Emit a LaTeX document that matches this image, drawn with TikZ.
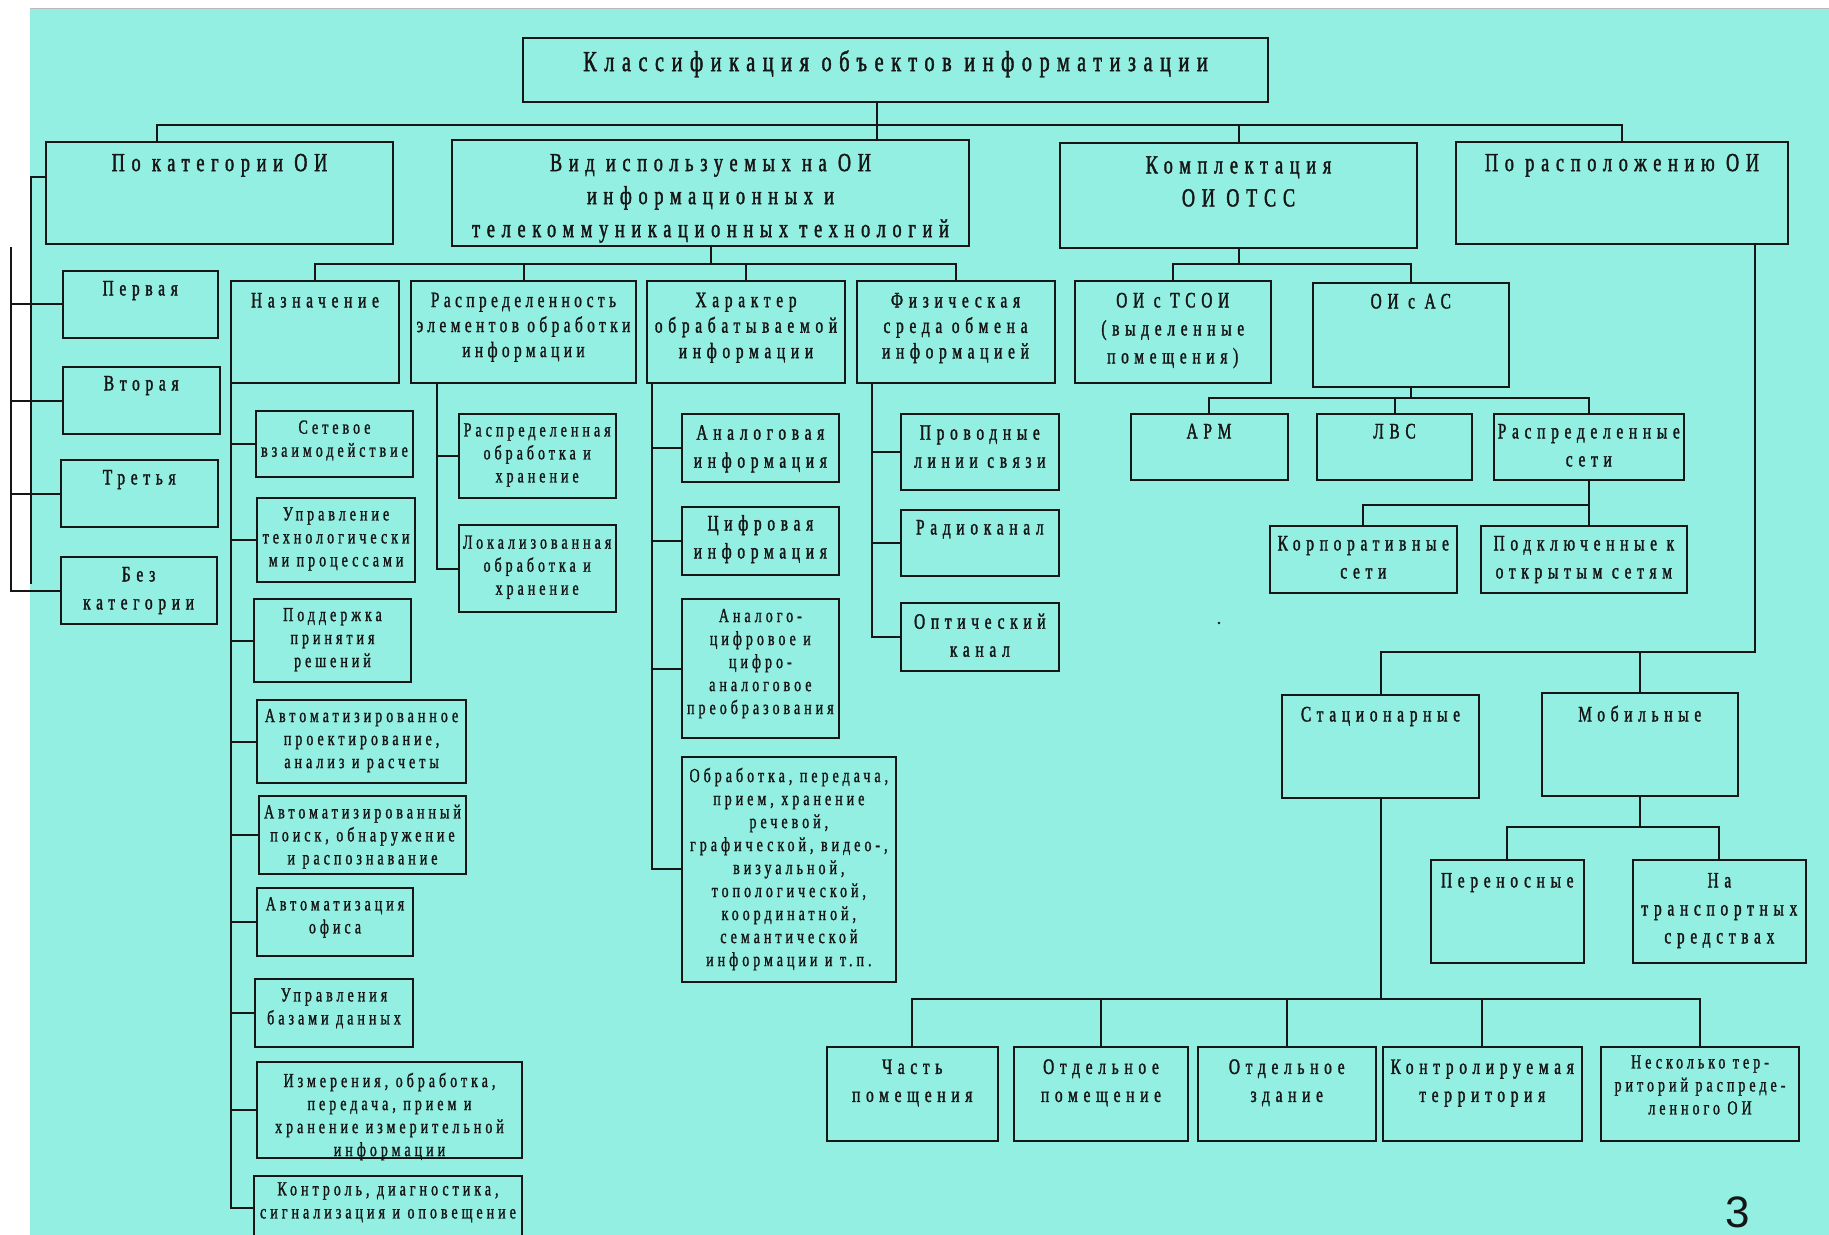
\documentclass[tikz,border=0pt]{standalone}
\usepackage{fontspec}
\setmainfont{Liberation Serif}[FakeStretch=0.7,LetterSpace=26,FakeBold=1.5]
\newfontfamily\narrowserif{Liberation Serif}[FakeStretch=0.7,LetterSpace=20,FakeBold=1.2]
\newfontfamily\pagenumfont{Liberation Sans}
\usetikzlibrary{calc}

\definecolor{sheet}{RGB}{146,239,226}
\definecolor{ink}{RGB}{22,22,22}

\tikzset{
  box/.style={draw=ink, line width=1pt, inner sep=0pt, outer sep=0pt},
  link/.style={draw=ink, line width=1pt},
  lbl/.style={inner sep=0pt, align=center, text=ink},
  ttl/.style={lbl, font=\fontsize{14.5}{18}\selectfont},
  big/.style={lbl, font=\fontsize{13}{16.5}\selectfont},
  mid/.style={lbl, font=\fontsize{11}{14}\selectfont},
  mdw/.style={lbl, font=\fontsize{11}{12.75}\selectfont},
  mdn/.style={lbl, font=\narrowserif\fontsize{11}{12.5}\selectfont},
  sml/.style={lbl, font=\narrowserif\fontsize{10}{11.5}\selectfont},
}

% a strut of fixed height starts every label, so the label's top lies
% exactly 12pt above the baseline of its first line
\newcommand\firstline{\rule{0pt}{12pt}}

% name, x1, y1, x2, y2, text style, first baseline, text
\newcommand\boxnode[8]{%
  \node[box, anchor=north west,
        minimum width={(#4-#2)*0.5pt}, minimum height={(#5-#3)*0.5pt}] (#1) at (#2,#3) {};
  \node[#6, anchor=north, yshift=12pt] (#1-t) at ($(#1.north)+(0,#7-#3)$) {\firstline#8};
}

\begin{document}
\begin{tikzpicture}[x=0.5pt, y=-0.5pt]
\useasboundingbox (0,0) rectangle (1829,1235);
\begin{scope}
\clip (0,0) rectangle (1829,1235);
\fill[sheet] (30,9) rectangle (1829,1235);
\draw[gray!55, line width=0.5pt] (30,9) -- (1829,9);

% root and first level
\boxnode{title}{523}{38}{1268}{102}{ttl}{70.7}{Классификация объектов информатизации}
\boxnode{cat}{46}{142}{393}{244}{big}{170.7}{По категории ОИ}
\boxnode{vid}{452}{140}{969}{246}{big}{170.7}{Вид используемых на ОИ\\информационных и\\телекоммуникационных технологий}
\boxnode{kompl}{1060}{143}{1417}{248}{big}{173}{Комплектация\\ОИ ОТСС}
\boxnode{rasp}{1456}{142}{1788}{244}{big}{170.7}{По расположению ОИ}

% categories
\boxnode{perv}{62.5}{271}{218}{338}{mid}{295}{Первая}
\boxnode{vtor}{63}{367}{219.5}{434}{mid}{390}{Вторая}
\boxnode{tret}{60.5}{460}{218}{527}{mid}{484}{Третья}
\boxnode{bez}{60.5}{557}{216.7}{624}{mid}{581}{Без\\категории}

% technologies
\boxnode{naz}{231}{281}{399}{383}{mid}{307}{Назначение}
\boxnode{raspr}{411}{281}{636}{383}{mdn}{306.7}{Распределенность\\элементов обработки\\информации}
\boxnode{har}{647}{281}{845}{383}{mdw}{306.7}{Характер\\обрабатываемой\\информации}
\boxnode{fiz}{856.5}{281}{1054.5}{383}{mdw}{307}{Физическая\\среда обмена\\информацией}

% purpose
\boxnode{set}{256}{411}{413}{477}{sml}{433.3}{Сетевое\\взаимодействие}
\boxnode{upr}{257.4}{498}{414.8}{581.7}{sml}{520}{Управление\\технологически\\ми процессами}
\boxnode{podd}{254}{599}{411}{682}{sml}{620.7}{Поддержка\\принятия\\решений}
\boxnode{avtp}{257.4}{700}{465.8}{783}{sml}{721.7}{Автоматизированное\\проектирование,\\анализ и расчеты}
\boxnode{avtpo}{259}{796}{466}{873.7}{sml}{818}{Автоматизированный\\поиск, обнаружение\\и распознавание}
\boxnode{avto}{257}{888}{413}{956}{sml}{910}{Автоматизация\\офиса}
\boxnode{ubd}{255}{979}{413}{1047}{sml}{1001}{Управления\\базами данных}
\boxnode{izm}{257}{1062}{522}{1158}{sml}{1086.7}{Измерения, обработка,\\передача, прием и\\хранение измерительной\\информации}
\boxnode{kon}{254}{1176}{522}{1240}{sml}{1195}{Контроль, диагностика,\\сигнализация и оповещение}

% distribution
\boxnode{rob}{458.7}{414}{615.6}{498}{sml}{436}{Распределенная\\обработка и\\хранение}
\boxnode{lok}{458.7}{525}{615.6}{612}{sml}{548.3}{Локализованная\\обработка и\\хранение}

% kind of information
\boxnode{anal}{681.7}{414}{839}{482}{mid}{439.3}{Аналоговая\\информация}
\boxnode{cifr}{681.7}{507}{839}{574.7}{mid}{530}{Цифровая\\информация}
\boxnode{acp}{681.7}{599}{839}{738}{sml}{621.7}{Аналого-\\цифровое и\\цифро-\\аналоговое\\преобразования}
\boxnode{obr}{681.7}{756.7}{896}{981.7}{sml}{781.7}{Обработка, передача,\\прием, хранение\\речевой,\\графической, видео-,\\визуальной,\\топологической,\\координатной,\\семантической\\информации и т.п.}

% physical medium
\boxnode{prov}{901}{414}{1058.7}{490}{mid}{439.3}{Проводные\\линии связи}
\boxnode{radio}{901}{510}{1058.7}{576}{mid}{534}{Радиоканал}
\boxnode{opt}{901}{602.7}{1058.7}{670.7}{mid}{628.3}{Оптический\\канал}

% equipment
\boxnode{tsoi}{1074.5}{281}{1271}{383}{mid}{307}{ОИ с ТСОИ\\(выделенные\\помещения)}
\boxnode{ac}{1312.5}{283}{1509}{387}{mid}{308}{ОИ с АС}
\boxnode{arm}{1130.5}{414}{1287.5}{480}{mid}{438}{АРМ}
\boxnode{lvs}{1317}{414}{1472}{480}{mid}{438}{ЛВС}
\boxnode{rs}{1493.6}{414}{1684}{480}{mid}{438}{Распределенные\\сети}
\boxnode{korp}{1269.6}{526}{1457}{593}{mid}{550}{Корпоративные\\сети}
\boxnode{podkl}{1480.7}{526}{1687}{593}{mid}{550}{Подключенные к\\открытым сетям}

% location
\boxnode{stac}{1282}{695}{1479}{798}{mid}{721}{Стационарные}
\boxnode{mob}{1541.5}{693}{1738}{796}{mid}{721}{Мобильные}
\boxnode{pern}{1431}{860}{1583.5}{963}{mid}{887}{Переносные}
\boxnode{trans}{1632.7}{860}{1806}{963}{mid}{887}{На\\транспортных\\средствах}
\boxnode{chast}{827}{1046.6}{997.5}{1141.4}{mid}{1073.5}{Часть\\помещения}
\boxnode{otdp}{1014}{1046.6}{1188}{1141.4}{mid}{1073.5}{Отдельное\\помещение}
\boxnode{otdz}{1198}{1046.6}{1375.5}{1141.4}{mid}{1073.5}{Отдельное\\здание}
\boxnode{kontr}{1383}{1046.6}{1581.5}{1141.4}{mid}{1073.5}{Контролируемая\\территория}
\boxnode{nesk}{1601}{1046.6}{1799}{1141.4}{sml}{1068}{Несколько тер-\\риторий распреде-\\ленного ОИ}

% ---- connectors ----
\coordinate (s0) at (876.5,125);
\coordinate (j1) at (157,125);
\draw[link] (title.south -| s0) -- (vid.north -| s0);
\draw[link] (cat.north -| j1) -- (j1) -| (rasp.north);
\draw[link] (kompl.north) -- (kompl.north |- j1);

\coordinate (ca) at (31,177);
\coordinate (caend) at (31,584);
\coordinate (cb) at (10.7,247);
\draw[link] (cat.west |- ca) -- (ca) -- (caend);
\draw[link] (cb) |- (bez.west);
\foreach \n in {perv,vtor,tret} \draw[link] (cb |- \n.west) -- (\n.west);

\coordinate (b2) at (0,264);
\draw[link] (vid.south) -- (vid.south |- b2);
\draw[link] (naz.north) |- (fiz.north |- b2) -- (fiz.north);
\foreach \n in {raspr,har} \draw[link] (\n.north) -- (\n.north |- b2);
\draw[link] (kompl.south) -- (kompl.south |- b2);
\draw[link] (tsoi.north) |- (ac.north |- b2) -- (ac.north);

\coordinate (b7) at (0,397.7);
\draw[link] (ac.south) -- (ac.south |- b7);
\draw[link] (arm.north) |- (rs.north |- b7) -- (rs.north);
\draw[link] (lvs.north) -- (lvs.north |- b7);

\coordinate (b8) at (0,505);
\draw[link] (rs.south) -- (rs.south |- podkl.north);
\draw[link] (korp.north) |- (rs.south |- b8);

\coordinate (r1) at (1754.6,652);
\draw[link] (r1 |- rasp.south) -- (r1) -| (stac.north);
\draw[link] (mob.north) -- (mob.north |- r1);

\coordinate (b10) at (0,827);
\draw[link] (mob.south) -- (mob.south |- b10);
\draw[link] (pern.north) |- (trans.north |- b10) -- (trans.north);

\coordinate (b11) at (0,999);
\draw[link] (stac.south) -- (stac.south |- b11);
\draw[link] (chast.north) |- (nesk.north |- b11) -- (nesk.north);
\foreach \n in {otdp,otdz,kontr} \draw[link] (\n.north) -- (\n.north |- b11);

\draw[link] (naz.south west) |- (kon.west);
\foreach \n in {set,upr,podd,avtp,avtpo,avto,ubd,izm} \draw[link] (naz.south west |- \n.west) -- (\n.west);

\coordinate (c13) at (437,0);
\draw[link] (raspr.south -| c13) |- (lok.west);
\draw[link] (c13 |- rob.west) -- (rob.west);

\coordinate (c14) at (651.7,0);
\draw[link] (har.south -| c14) |- (obr.west);
\foreach \n in {anal,cifr,acp} \draw[link] (c14 |- \n.west) -- (\n.west);

\coordinate (c15) at (871.7,0);
\draw[link] (fiz.south -| c15) |- (opt.west);
\foreach \n in {prov,radio} \draw[link] (c15 |- \n.west) -- (\n.west);

\fill[ink] (1219,623) circle[radius=0.7pt];
\node[font=\pagenumfont\fontsize{22}{22}\selectfont, text=ink, inner sep=0pt] (pnum) at (1738,1212) {3};
\end{scope}
\end{tikzpicture}
\end{document}
